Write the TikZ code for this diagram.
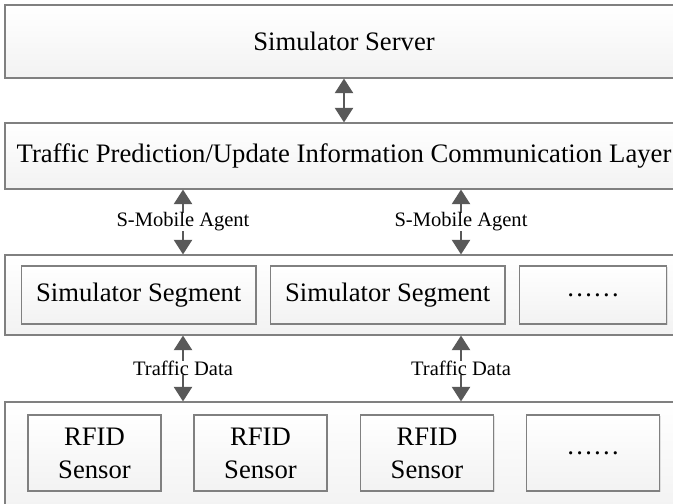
\documentclass[tikz,border=0pt]{standalone}
\usepackage{fontspec}
\setmainfont{Liberation Serif}
\usetikzlibrary{arrows.meta,shadows}
\definecolor{boxgray}{HTML}{808080}
\definecolor{arrgray}{HTML}{595959}
\begin{document}
\begin{tikzpicture}[x=0.75pt,y=-0.75pt,
	box/.style={draw=boxgray,line width=0.8pt,top color=white,bottom color=gray!10,inner sep=0pt,align=center,
		font=\fontsize{20}{24.75}\selectfont,drop shadow={opacity=0.2,shadow xshift=1pt,shadow yshift=-1pt}},
	layerbox/.style={box,minimum width=508.5pt},
	segbox/.style={box,minimum height=43.5pt},
	sensbox/.style={box,minimum width=99.75pt,minimum height=57pt},
	link/.style={draw=arrgray,line width=2pt,{Triangle[width=13.5pt,length=11pt]}-{Triangle[width=13.5pt,length=11pt]}},
	lab/.style={fill=white,inner sep=0pt,font=\fontsize{15.4}{18}\selectfont}]
	\path[fill=white,use as bounding box] (0,0) rectangle (673,503);

	\node[layerbox,minimum height=54.75pt] (server) at (344,41.5) {Simulator Server};
	\node[layerbox,minimum height=49.5pt] (comm) at (344,156) {Traffic Prediction/Update Information Communication Layer};
	\node[layerbox,minimum height=60pt] (segs) at (344,295) {};
	\node[layerbox,minimum height=82.5pt] (sensors) at (344,457) {};

	\node[segbox,minimum width=175.9pt] (seg1) at (138.75,295) {Simulator Segment};
	\node[segbox,minimum width=175.9pt] (seg2) at (387.75,295) {Simulator Segment};
	\node[segbox,minimum width=110.5pt] (seg3) at (593,295) {\textellipsis\textellipsis};

	\node[sensbox] (rfid1) at (94.5,453) {RFID\\Sensor};
	\node[sensbox] (rfid2) at (260.5,453) {RFID\\Sensor};
	\node[sensbox] (rfid3) at (427,453) {RFID\\Sensor};
	\node[sensbox] (rfid4) at (593,453) {\textellipsis\textellipsis};

	\coordinate (left) at (183,0);
	\coordinate (right) at (461,0);

	\draw[link] (server.south) -- (comm.north);
	\draw[link] (comm.south -| left) -- (segs.north -| left);
	\draw[link] (comm.south -| right) -- (segs.north -| right);
	\draw[link] (segs.south -| left) -- (sensors.north -| left);
	\draw[link] (segs.south -| right) -- (sensors.north -| right);

	\node[lab] (agent1) at (183,222) {S-Mobile Agent};
	\node[lab] (agent2) at (461,222) {S-Mobile Agent};
	\node[lab] (data1) at (183,368) {Traffic Data};
	\node[lab] (data2) at (461,368) {Traffic Data};
\end{tikzpicture}
\end{document}
